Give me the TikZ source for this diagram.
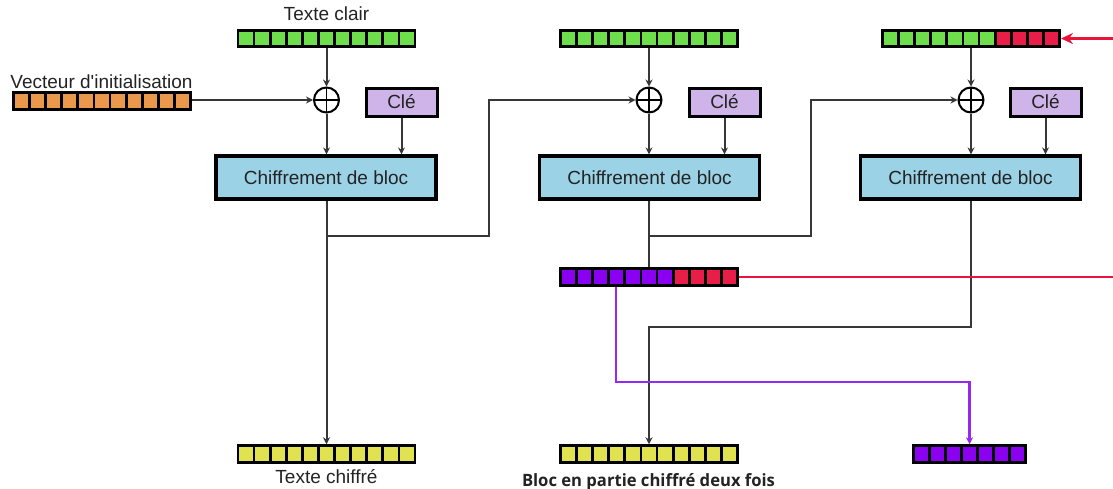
\documentclass[tikz,border=0pt]{standalone}
\usepackage{fontspec}
\setmainfont{Liberation Sans}
\newfontfamily\capfont{Open Sans}
\usetikzlibrary{arrows.meta}

\definecolor{cellgreen}{RGB}{110,222,76}
\definecolor{cellorange}{RGB}{234,152,76}
\definecolor{cellred}{RGB}{232,30,72}
\definecolor{cellpurple}{RGB}{138,0,240}
\definecolor{cellyellow}{RGB}{224,226,80}
\definecolor{keyfill}{RGB}{206,180,232}
\definecolor{cipherfill}{RGB}{156,210,230}
\definecolor{wire}{RGB}{55,55,55}
\definecolor{violetwire}{RGB}{150,40,245}
\definecolor{redwire}{RGB}{232,20,60}
\definecolor{inktext}{RGB}{35,35,35}

\tikzset{
  rowbox/.style={fill=black, inner sep=0pt, outer sep=0pt, minimum height=19.5pt},
  keybox/.style={draw=black, line width=3pt, fill=keyfill, minimum width=71pt,
    minimum height=28pt, inner sep=0pt, font=\fontsize{19}{19}\selectfont, text=inktext},
  cipherbox/.style={draw=black, line width=3.2pt, fill=cipherfill, minimum width=220pt,
    minimum height=43pt, inner sep=0pt, font=\fontsize{19}{19}\selectfont, text=inktext},
  xorgate/.style={circle, draw=black, line width=2pt, minimum size=25pt, inner sep=0pt,
    path picture={\draw[line width=1.5pt]
      (path picture bounding box.north) -- (path picture bounding box.south)
      (path picture bounding box.west) -- (path picture bounding box.east);}},
  plainwire/.style={draw=wire, line width=2pt},
  wirearrow/.style={plainwire, -{Stealth[length=7pt,width=7pt]}},
  caption/.style={font=\fontsize{19}{19}\selectfont, text=inktext, inner sep=0pt}
}

% a register of coloured cells: name, centre, number of cells, colour list
\newcommand\cellrow[4]{%
  \node[rowbox, minimum width={#3*16.1pt+2.8pt}] (#1) at #2 {};
  \foreach \c [count=\i from 0] in {#4}
    \fill[\c] ([xshift={2.8pt+\i*16.1pt}, yshift=-2.8pt]#1.north west) rectangle ++(13.3pt,-13.9pt);
}

\begin{document}
\begin{tikzpicture}[x=1pt, y=-1pt]
\useasboundingbox (0,0) rectangle (1113,488);
\clip (0,0) rectangle (1113,488);

% registers
\cellrow{g1}{(326.5,38.5)}{11}{cellgreen,cellgreen,cellgreen,cellgreen,cellgreen,cellgreen,cellgreen,cellgreen,cellgreen,cellgreen,cellgreen}
\cellrow{g2}{(649,38.5)}{11}{cellgreen,cellgreen,cellgreen,cellgreen,cellgreen,cellgreen,cellgreen,cellgreen,cellgreen,cellgreen,cellgreen}
\cellrow{g3}{(971,38.5)}{11}{cellgreen,cellgreen,cellgreen,cellgreen,cellgreen,cellgreen,cellgreen,cellred,cellred,cellred,cellred}
\cellrow{iv}{(102,101)}{11}{cellorange,cellorange,cellorange,cellorange,cellorange,cellorange,cellorange,cellorange,cellorange,cellorange,cellorange}
\cellrow{p1}{(649,277)}{11}{cellpurple,cellpurple,cellpurple,cellpurple,cellpurple,cellpurple,cellpurple,cellred,cellred,cellred,cellred}
\cellrow{y1}{(326.5,454)}{11}{cellyellow,cellyellow,cellyellow,cellyellow,cellyellow,cellyellow,cellyellow,cellyellow,cellyellow,cellyellow,cellyellow}
\cellrow{y2}{(649,454)}{11}{cellyellow,cellyellow,cellyellow,cellyellow,cellyellow,cellyellow,cellyellow,cellyellow,cellyellow,cellyellow,cellyellow}
\cellrow{pf}{(969.5,454)}{7}{cellpurple,cellpurple,cellpurple,cellpurple,cellpurple,cellpurple,cellpurple}

% XOR gates, keys and block ciphers
\node[xorgate] (xor1) at (326.5,100) {};
\node[xorgate] (xor2) at (649,100) {};
\node[xorgate] (xor3) at (971,100) {};
\node[keybox] (key1) at (401.5,102) {Clé};
\node[keybox] (key2) at (724.5,102) {Clé};
\node[keybox] (key3) at (1045.5,102) {Clé};
\node[cipherbox] (ch1) at (326,177.5) {Chiffrement de bloc};
\node[cipherbox] (ch2) at (649.5,177.5) {Chiffrement de bloc};
\node[cipherbox] (ch3) at (970.5,177.5) {Chiffrement de bloc};

% labels
\node[caption, anchor=base] (lpt) at (326.5,20) {Texte clair};
\node[caption, anchor=base] (liv) at (101.5,88) {Vecteur d\textquotesingle initialisation};
\node[caption, anchor=base] (lct) at (326.5,483) {Texte chiffré};
\node[anchor=base, inner sep=0pt, text=inktext] (lbd) at (648.5,486)
  {\resizebox{253pt}{13pt}{\capfont\bfseries Bloc en partie chiffré deux fois}};

% wiring inside each stage
\foreach \k in {1,2,3} {
  \draw[wirearrow] (g\k.south) -- (xor\k.north);
  \draw[wirearrow] (xor\k.south) -- (xor\k.south |- ch\k.north);
  \draw[wirearrow] (key\k.south) -- (key\k.south |- ch\k.north);
}
\draw[wirearrow] (iv.east |- xor1.west) -- (xor1.west);

% chaining between stages
\coordinate (j1) at (326.5,236);
\coordinate (k1) at (489,236);
\coordinate (j2) at (649,236);
\coordinate (k2) at (811,236);
\coordinate (c3) at (971,327);
\draw[wirearrow] (ch1.south -| j1) -- (y1.north);
\draw[wirearrow] (j1) -- (k1) |- (xor2.west);
\draw[plainwire] (ch2.south -| j2) -- (p1.north);
\draw[wirearrow] (j2) -- (k2) |- (xor3.west);
\draw[wirearrow] (ch3.south -| c3) -- (c3) -| (y2.north);

% stolen tail of the last-but-one ciphertext
\coordinate (pv) at (616,382);
\draw[violetwire, line width=2.4pt, -{Stealth[length=7pt,width=7pt]}]
  (p1.south -| pv) -- (pv) -| (pf.north);
\coordinate (rr) at (1125,277);
\coordinate (rt) at (1125,38.5);
\draw[redwire, line width=2.4pt, -{Stealth[length=12pt,width=11pt]}]
  (p1.east) -- (rr) -- (rt) -- (g3.east);
\end{tikzpicture}
\end{document}
